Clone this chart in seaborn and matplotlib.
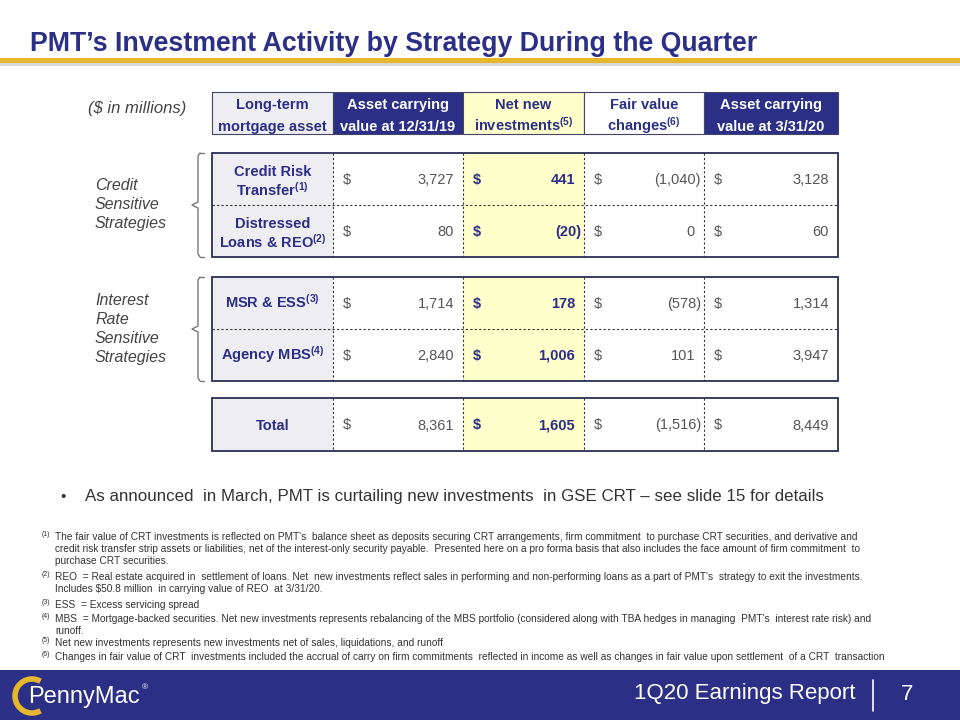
import numpy as np
import seaborn as sns
import matplotlib.pyplot as plt
from matplotlib.patches import Rectangle, Arc

# ------------------------------------------------------------
# Data
# ------------------------------------------------------------
headers = [["Long-term", "mortgage asset"],
           ["Asset carrying", "value at 12/31/19"],
           ["Net new", "investments$^{(5)}$"],
           ["Fair value", "changes$^{(6)}$"],
           ["Asset carrying", "value at 3/31/20"]]
row_labels = [["Credit Risk", "Transfer$^{(1)}$"],
              ["Distressed", "Loans & REO$^{(2)}$"],
              ["MSR & ESS$^{(3)}$"],
              ["Agency MBS$^{(4)}$"],
              ["Total"]]
value_1231 = [3727, 80, 1714, 2840, 8361]
net_new = [441, -20, 178, 1006, 1605]
fair_value = [-1040, 0, -578, 101, -1516]
value_0331 = [3128, 60, 1314, 3947, 8449]
groups = [["Credit", "Sensitive", "Strategies"],
          ["Interest", "Rate", "Sensitive", "Strategies"]]

footnotes = [
    ("(1)", "The fair value of CRT investments is reflected on PMT's  balance sheet as deposits securing CRT arrangements, firm commitment  to purchase CRT securities, and derivative and"),
    ("", "credit risk transfer strip assets or liabilities, net of the interest-only security payable.  Presented here on a pro forma basis that also includes the face amount of firm commitment  to"),
    ("", "purchase CRT securities."),
    ("(2)", "REO  = Real estate acquired in  settlement of loans. Net  new investments reflect sales in performing and non-performing loans as a part of PMT's  strategy to exit the investments."),
    ("", "Includes $50.8 million  in carrying value of REO  at 3/31/20."),
    ("(3)", "ESS  = Excess servicing spread"),
    ("(4)", "MBS  = Mortgage-backed securities. Net new investments represents rebalancing of the MBS portfolio (considered along with TBA hedges in managing  PMT's  interest rate risk) and"),
    ("", "runoff."),
    ("(5)", "Net new investments represents new investments net of sales, liquidations, and runoff"),
    ("(6)", "Changes in fair value of CRT  investments included the accrual of carry on firm commitments  reflected in income as well as changes in fair value upon settlement  of a CRT  transaction"),
]

# ------------------------------------------------------------
# Style
# ------------------------------------------------------------
sns.set_theme(style="white")
plt.rcParams["font.family"] = ["Liberation Sans", "DejaVu Sans"]
plt.rcParams["mathtext.fontset"] = "custom"
plt.rcParams["mathtext.rm"] = "Liberation Sans"
plt.rcParams["mathtext.default"] = "regular"

NAVY = "#2b2f86"
GOLD = "#e5b72c"
YELLOW = "#ffffcc"
GREY_CELL = "#ededf2"
VAL_COL = "#555555"

fig = plt.figure(figsize=(9.6, 7.2), dpi=100)
ax = fig.add_axes([0, 0, 1, 1])
ax.set_xlim(0, 960)
ax.set_ylim(720, 0)
ax.axis("off")

# title + gold rule
ax.text(30, 44, "PMT\u2019s Investment Activity by Strategy During the Quarter",
        fontsize=19.3, fontweight="bold", color=NAVY, va="center", ha="left")
ax.add_patch(Rectangle((0, 63), 960, 3, color="#d8d8d8", lw=0))
ax.add_patch(Rectangle((0, 58), 960, 4.5, color=GOLD, lw=0))

# column layout (pixels)
col_edges = [212, 333, 463, 584, 704, 838]
col_fill = [GREY_CELL, "white", YELLOW, "white", "white"]
head_fill = [GREY_CELL, NAVY, YELLOW, "white", NAVY]
head_txt = [NAVY, "white", NAVY, NAVY, "white"]

# header
hy0, hy1 = 92, 134
for i, lines in enumerate(headers):
    x0, x1 = col_edges[i], col_edges[i + 1]
    ax.add_patch(Rectangle((x0, hy0), x1 - x0, hy1 - hy0, facecolor=head_fill[i],
                           edgecolor="#444466", lw=0.8))
    for line, yb in zip(lines, [109, 131]):
        ax.text((x0 + x1) / 2, yb, line, ha="center", va="baseline",
                fontsize=10.5, fontweight="bold", color=head_txt[i])
ax.text(88, 108, "($ in millions)", fontsize=12, style="italic", color="#444444",
        va="center", ha="left")

# table blocks: (first row, number of rows, top y, row height)
blocks = [(0, 2, 153, 52), (2, 2, 277, 52), (4, 1, 398, 53)]
columns = [value_1231, net_new, fair_value, value_0331]


def fmt(v):
    if v < 0:
        return "({:,})".format(-v)
    return "{:,}".format(v)


for start, n, top, row_h in blocks:
    height = n * row_h
    for c in range(5):
        x0, x1 = col_edges[c], col_edges[c + 1]
        ax.add_patch(Rectangle((x0, top), x1 - x0, height, facecolor=col_fill[c], lw=0))
    for xv in col_edges[1:-1]:
        ax.plot([xv, xv], [top, top + height], color="#333333", lw=0.8, ls=(0, (2, 2)))
    for k in range(1, n):
        ax.plot([col_edges[0], col_edges[-1]], [top + k * row_h] * 2, color="#333333",
                lw=0.8, ls=(0, (2, 2)))
    ax.add_patch(Rectangle((col_edges[0], top), col_edges[-1] - col_edges[0], height,
                           facecolor="none", edgecolor="#2a2f55", lw=1.3))
    for k in range(n):
        r = start + k
        rtop = top + k * row_h
        yc = rtop + row_h / 2
        lab = row_labels[r]
        ybs = [rtop + 23, rtop + 43] if len(lab) == 2 else [yc + 5]
        for line, yb in zip(lab, ybs):
            ax.text((col_edges[0] + col_edges[1]) / 2, yb, line, ha="center",
                    va="baseline", fontsize=10.5, fontweight="bold", color=NAVY)
        for c, vals in enumerate(columns):
            x0, x1 = col_edges[c + 1], col_edges[c + 2]
            bold = c == 1
            tc = NAVY if bold else VAL_COL
            fw = "bold" if bold else "normal"
            ax.text(x0 + 10, yc + 5, "$", ha="left", va="baseline", fontsize=10.5,
                    color=tc, fontweight=fw)
            v = vals[r]
            xr = x1 - 3 if v < 0 else x1 - 9
            ax.text(xr, yc + 5, fmt(v), ha="right", va="baseline", fontsize=10.5,
                    color=tc, fontweight=fw)

# group brackets and labels
for lines, top, ly in zip(groups, [153, 277], [185, 300]):
    bot = top + 2 * 52
    mid = (top + bot) / 2
    bx = 198
    ax.plot([bx + 6, bx + 2], [top, top], color="#777777", lw=1)
    ax.plot([bx + 2, bx + 6], [bot, bot], color="#777777", lw=1)
    ax.plot([bx + 2, bx, bx, bx - 6, bx, bx, bx + 2],
            [top, top + 3, mid - 3, mid, mid + 3, bot - 3, bot], color="#777777", lw=1)
    for j, line in enumerate(lines):
        ax.text(95, ly + 19 * j + 5, line, fontsize=11.5, style="italic",
                color="#444444", va="baseline", ha="left")

# bullet
ax.text(60, 497, "\u2022", fontsize=11, color="#333333", va="center")
ax.text(85, 497, "As announced  in March, PMT is curtailing new investments  in GSE CRT \u2013 see slide 15 for details",
        fontsize=12.2, color="#333333", va="center", ha="left")

# footnotes
fy = [537, 549, 561, 577, 589, 605, 619, 631, 643, 657]
for (mark, txt), y in zip(footnotes, fy):
    if mark:
        ax.text(42, y - 2, mark, fontsize=5, color="#333333", va="center", ha="left")
    ax.text(55, y, txt, fontsize=7.3, color="#333333", va="center", ha="left")

# bottom bar
ax.add_patch(Rectangle((0, 670), 960, 50, color=NAVY, lw=0))
ax.text(855, 694, "1Q20 Earnings Report", fontsize=16, color="white", va="center", ha="right")
ax.plot([873, 873], [680, 711], color="white", lw=1.2)
ax.text(907, 694, "7", fontsize=16, color="white", va="center", ha="center")
ax.add_patch(Arc((32, 696), 34, 34, theta1=60, theta2=300, color=GOLD, lw=4))
ax.text(28, 697, "PennyMac", fontsize=17, color="white", va="center", ha="left")
ax.text(142, 688, "\u00ae", fontsize=6, color="white", va="center", ha="left")

fig.savefig("out.png", dpi=100)
